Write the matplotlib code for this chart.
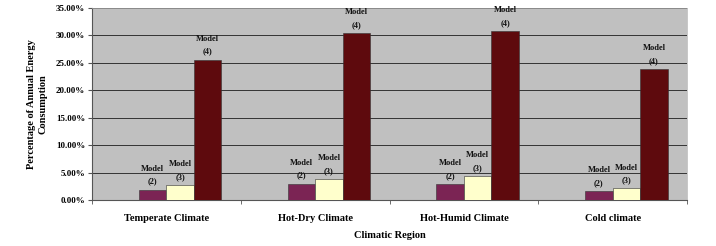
import matplotlib
matplotlib.use("Agg")
import matplotlib.pyplot as plt
import numpy as np
from matplotlib.ticker import FuncFormatter, FixedLocator

categories = ["Temperate Climate", "Hot-Dry Climate", "Hot-Humid Climate", "Cold climate"]
series_names = ["Model\n(2)", "Model\n(3)", "Model\n(4)"]
model2 = [1.9, 3.0, 2.9, 1.6]
model3 = [2.7, 3.8, 4.4, 2.1]
model4 = [25.6, 30.4, 30.8, 23.9]
colors = ["#7B2454", "#FFFFCC", "#5E0A0D"]

plt.rcParams['font.family'] = ['Liberation Serif', 'DejaVu Serif']
plt.rcParams['font.weight'] = 'bold'

fig = plt.figure(figsize=(7.16, 2.46), dpi=100)
ax = fig.add_axes([0.1285, 0.187, 0.831, 0.7805])
ax.set_facecolor("#C0C0C0")

x = np.arange(len(categories))
w = 0.185
for i, (vals, c, name) in enumerate(zip([model2, model3, model4], colors, series_names)):
    pos = x + (i - 0.5) * w
    bars = ax.bar(pos, vals, width=w, color=c, edgecolor="#333333", linewidth=0.4, zorder=3)
    for b, v in zip(bars, vals):
        ax.annotate(name, (b.get_x() + b.get_width() / 2, v), xytext=(0, 3),
                    textcoords="offset points", ha="center", va="bottom",
                    fontsize=6, fontweight="bold", linespacing=1.8, color="#111111")

ax.set_xlim(-0.5, len(categories) - 0.5)
ax.set_ylim(0, 35)
ax.set_yticks(np.arange(0, 36, 5))
ax.yaxis.set_major_formatter(FuncFormatter(lambda v, p: f"{v:.2f}%"))
ax.grid(axis="y", color="#333333", linewidth=0.7, zorder=1)
ax.set_xticks(x)
ax.set_xticklabels(categories, fontsize=7.5, fontweight="bold")
ax.tick_params(axis="x", length=0, pad=10)
ax.xaxis.set_minor_locator(FixedLocator(np.arange(-0.5, len(categories), 1)))
ax.tick_params(axis="x", which="minor", length=3, color="#555555")
ax.tick_params(axis="y", labelsize=6.5, length=3, color="#555555", pad=2)
for lbl in ax.get_yticklabels():
    lbl.set_fontweight("bold")

for s in ["left", "bottom"]:
    ax.spines[s].set_color("#555555")
    ax.spines[s].set_linewidth(0.8)
for s in ["top", "right"]:
    ax.spines[s].set_color("#B0B0B0")
    ax.spines[s].set_linewidth(0.5)

ax.set_ylabel("Percentage of Annual Energy\nConsumption", fontsize=7.5, fontweight="bold",
              labelpad=6, linespacing=1.4)
ax.set_xlabel("Climatic Region", fontsize=7.5, fontweight="bold", labelpad=6)

fig.savefig("out.png", dpi=100, facecolor="white")
